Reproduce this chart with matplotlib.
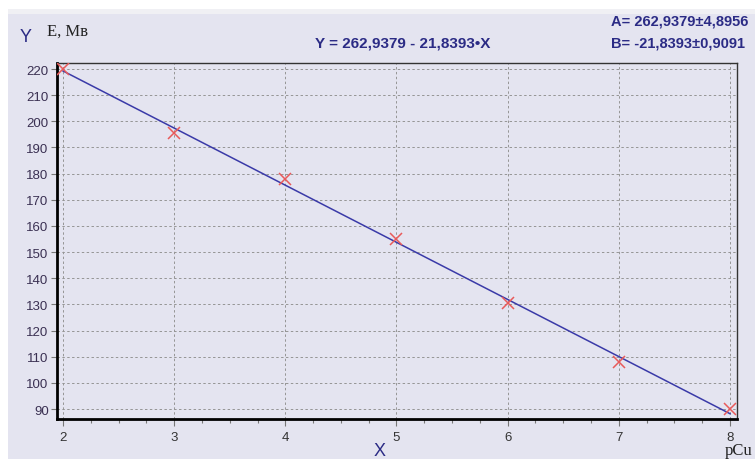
"""Linear calibration plot E vs pCu."""

import numpy as np
import matplotlib.pyplot as plt
from matplotlib.patches import Rectangle
from matplotlib.ticker import MultipleLocator

plt.rcParams['font.family'] = ['Liberation Sans', 'DejaVu Sans']

# data
pcu = [2, 3, 4, 5, 6, 7, 8]
e_mv = [220, 195.5, 178, 155, 130.5, 108, 90]

# fit coefficients shown on the chart
A = 262.9379
B = -21.8393

bg = '#e4e4f0'
navy = '#2b2b85'

fig = plt.figure(figsize=(7.55, 4.6), dpi=100)
fig.patch.set_facecolor('white')
fig.add_artist(Rectangle((8 / 755, 0), 1, (460 - 10) / 460, transform=fig.transFigure,
                         facecolor='#f0f0f4', edgecolor='none', zorder=-2))
fig.add_artist(Rectangle((8 / 755, 0), 1, (460 - 15) / 460, transform=fig.transFigure,
                         facecolor=bg, edgecolor='none', zorder=-1))

ax = fig.add_axes([57 / 755, 40 / 460, 680 / 755, 356 / 460])
ax.set_facecolor(bg)

xfit = np.array([pcu[0], pcu[-1]])
ax.plot(xfit, A + B * xfit, color='#3a3aa8', lw=1.1, zorder=3)
ax.plot(pcu, e_mv, 'x', color='#e85a5a', ms=9, mew=1.1, zorder=4)

ax.set_xlim(1.946, 8.063)
ax.set_ylim(86.2, 222.3)
ax.xaxis.set_major_locator(MultipleLocator(1))
ax.xaxis.set_minor_locator(MultipleLocator(0.25))
ax.yaxis.set_major_locator(MultipleLocator(10))
ax.grid(True, which='major', color='#959595', ls=(0, (2.5, 2.5)), lw=0.7)

for side in ['left', 'bottom']:
    ax.spines[side].set_linewidth(2)
    ax.spines[side].set_color('black')
for side in ['top', 'right']:
    ax.spines[side].set_linewidth(1)
    ax.spines[side].set_color('#333333')

ax.tick_params(axis='y', direction='out', length=4, width=0.8, color='#777777',
               labelsize=9.5, labelcolor='#3a3052', pad=2)
ax.tick_params(axis='x', which='major', direction='out', length=5, width=0.8,
               color='#777777', labelsize=9.5, labelcolor='#333333', pad=4)
ax.tick_params(axis='x', which='minor', direction='out', length=3, width=0.8,
               color='#777777')

fig.text(20 / 755, 1 - 38 / 460, 'Y', color=navy, fontsize=13, va='center')
fig.text(47 / 755, 1 - 32 / 460, 'E, Mв', family='Liberation Serif', color='#222222',
         fontsize=12, va='center')
fig.text(403 / 755, 1 - 44 / 460, 'Y = 262,9379 - 21,8393•X', color=navy, fontsize=11,
         fontweight='bold', ha='center', va='center')
fig.text(611 / 755, 1 - 22 / 460, 'A= 262,9379±4,8956', color=navy, fontsize=10.5,
         fontweight='bold', va='center')
fig.text(611 / 755, 1 - 44 / 460, 'B= -21,8393±0,9091', color=navy, fontsize=10.5,
         fontweight='bold', va='center')
fig.text(380 / 755, 1 - 452 / 460, 'X', color=navy, fontsize=13, ha='center', va='center')
fig.text(752 / 755, 1 - 451 / 460, 'pCu', family='Liberation Serif', color='#222222',
         fontsize=12, ha='right', va='center')

plt.savefig('out.png', dpi=100, facecolor=fig.get_facecolor())
